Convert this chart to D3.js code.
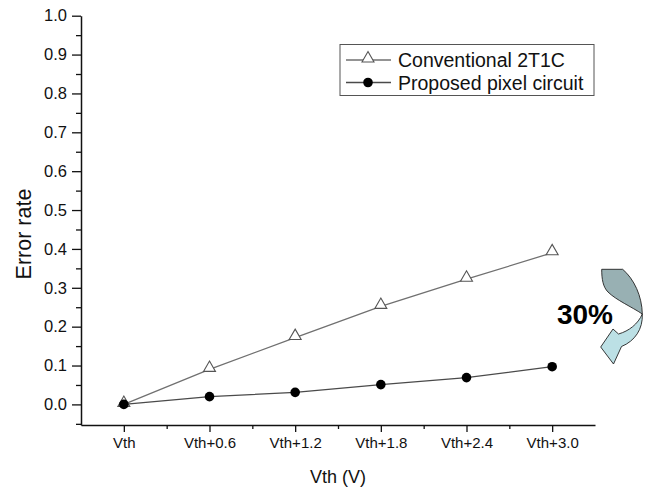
<!DOCTYPE html>
<html>
<head>
<meta charset="utf-8">
<script src="https://cdn.jsdelivr.net/npm/d3@7"></script>
<style>
  html, body { margin: 0; padding: 0; background: #fff; }
  svg { display: block; font-family: "Liberation Sans", Arial, sans-serif; }
</style>
</head>
<body>
<svg id="chart" width="650" height="488"></svg>
<script>
// Threshold-voltage shift steps along the x axis
const categories = ["Vth", "Vth+0.6", "Vth+1.2", "Vth+1.8", "Vth+2.4", "Vth+3.0"];
// Error rate for each pixel circuit
const conventional = [0.0, 0.09, 0.172, 0.252, 0.322, 0.39];
const proposed = [0.0, 0.02, 0.031, 0.051, 0.069, 0.097];
const seriesNames = ["Conventional 2T1C", "Proposed pixel circuit"];
const yTicks = [0, 0.1, 0.2, 0.3, 0.4, 0.5, 0.6, 0.7, 0.8, 0.9, 1.0];
const yMinorTicks = [-0.05, 0.05, 0.15, 0.25, 0.35, 0.45, 0.55, 0.65, 0.75, 0.85, 0.95];
const reductionLabel = "30%";

const svg = d3.select("#chart");

const plotLeft = 81, plotRight = 595, plotTop = 15.7, plotBottom = 425;
const x = d3.scaleLinear().domain([-0.5, 5.5]).range([plotLeft, plotRight]);
const y = d3.scaleLinear().domain([-0.053, 1.0]).range([plotBottom, plotTop]);

// Axes
const axisColor = "#111";
const xMajor = svg.append("g").attr("transform", `translate(0,${plotBottom})`)
  .call(d3.axisBottom(x).tickValues(d3.range(categories.length))
    .tickFormat(i => categories[i]).tickSize(7).tickSizeOuter(0).tickPadding(5));
svg.append("g").attr("transform", `translate(0,${plotBottom})`)
  .call(d3.axisBottom(x).tickValues(d3.range(categories.length - 1).map(i => i + 0.5))
    .tickFormat("").tickSize(4).tickSizeOuter(0))
  .select(".domain").remove();

const yMajor = svg.append("g").attr("transform", `translate(${plotLeft},0)`)
  .call(d3.axisLeft(y).tickValues(yTicks).tickFormat(d3.format(".1f"))
    .tickSize(9).tickSizeOuter(0).tickPadding(5));
svg.append("g").attr("transform", `translate(${plotLeft},0)`)
  .call(d3.axisLeft(y).tickValues(yMinorTicks).tickFormat("").tickSize(5).tickSizeOuter(0))
  .select(".domain").remove();

svg.selectAll(".domain").attr("stroke", axisColor).attr("stroke-width", 1.5);
svg.selectAll(".tick line").attr("stroke", axisColor).attr("stroke-width", 1.3);
svg.selectAll(".tick text").attr("fill", "#111")
  .attr("font-family", "'Liberation Sans', Arial, sans-serif");
xMajor.selectAll(".tick text").attr("font-size", 15);
yMajor.selectAll(".tick text").attr("font-size", 16.5);

// Axis titles
svg.append("text").attr("x", 338).attr("y", 483).attr("text-anchor", "middle")
  .attr("font-size", 18).attr("fill", "#111").text("Vth (V)");
svg.append("text").attr("transform", "translate(31,234) rotate(-90)")
  .attr("text-anchor", "middle").attr("font-size", 21.5).attr("fill", "#111").text("Error rate");

// Series lines
const line = d3.line().x((d, i) => x(i)).y(d => y(d));
svg.append("path").datum(conventional).attr("d", line)
  .attr("fill", "none").attr("stroke", "#707070").attr("stroke-width", 1.3);
svg.append("path").datum(proposed).attr("d", line)
  .attr("fill", "none").attr("stroke", "#4a4a4a").attr("stroke-width", 1.3);

// Markers
const tri = d3.symbol().type(d3.symbolTriangle).size(62);
svg.selectAll(".tri").data(conventional).join("path").attr("class", "tri")
  .attr("d", tri).attr("transform", (d, i) => `translate(${x(i)},${y(d) - 1.5})`)
  .attr("fill", "#fff").attr("stroke", "#555").attr("stroke-width", 1.1);
svg.selectAll(".dot").data(proposed).join("circle").attr("class", "dot")
  .attr("cx", (d, i) => x(i)).attr("cy", d => y(d)).attr("r", 4.8).attr("fill", "#000");

// Legend
const lg = svg.append("g");
lg.append("rect").attr("x", 340).attr("y", 44.5).attr("width", 254).attr("height", 51)
  .attr("fill", "#fff").attr("stroke", "#555").attr("stroke-width", 1);
const legendRows = [60, 82.5];
legendRows.forEach((ry, k) => {
  lg.append("line").attr("x1", 346).attr("x2", 391).attr("y1", ry).attr("y2", ry)
    .attr("stroke", k === 0 ? "#707070" : "#4a4a4a").attr("stroke-width", 1.3);
  if (k === 0) {
    lg.append("path").attr("d", tri).attr("transform", `translate(368,${ry - 1.5})`)
      .attr("fill", "#fff").attr("stroke", "#555").attr("stroke-width", 1.1);
  } else {
    lg.append("circle").attr("cx", 368).attr("cy", ry).attr("r", 4.8).attr("fill", "#000");
  }
  lg.append("text").attr("x", 398).attr("y", ry + 7).attr("font-size", 19.5)
    .attr("fill", "#111").text(seriesNames[k]);
});

// Curved arrow showing the reduction between the two series at Vth+3.0
const arrow = svg.append("g").attr("stroke", "#222").attr("stroke-width", 0.9)
  .attr("stroke-linejoin", "round");
arrow.append("path")
  .attr("d", "M601.7,269.3 L622.7,269.3 C634,279 642,296 642.3,314 C632,307 616,300 608,292 C603,287 601.7,279 601.7,269.3 Z")
  .attr("fill", "#98b0b3");
arrow.append("path")
  .attr("d", "M642.3,314 C643,329 635,341 621.5,346.5 L613.5,364 L600.7,347 L613,329 L618.5,334 C629,331 638,324 642.3,314 Z")
  .attr("fill", "#bce0e5");
svg.append("text").attr("x", 585).attr("y", 324).attr("text-anchor", "middle")
  .attr("font-size", 28).attr("font-weight", "bold").attr("fill", "#000").text(reductionLabel);
</script>
</body>
</html>
